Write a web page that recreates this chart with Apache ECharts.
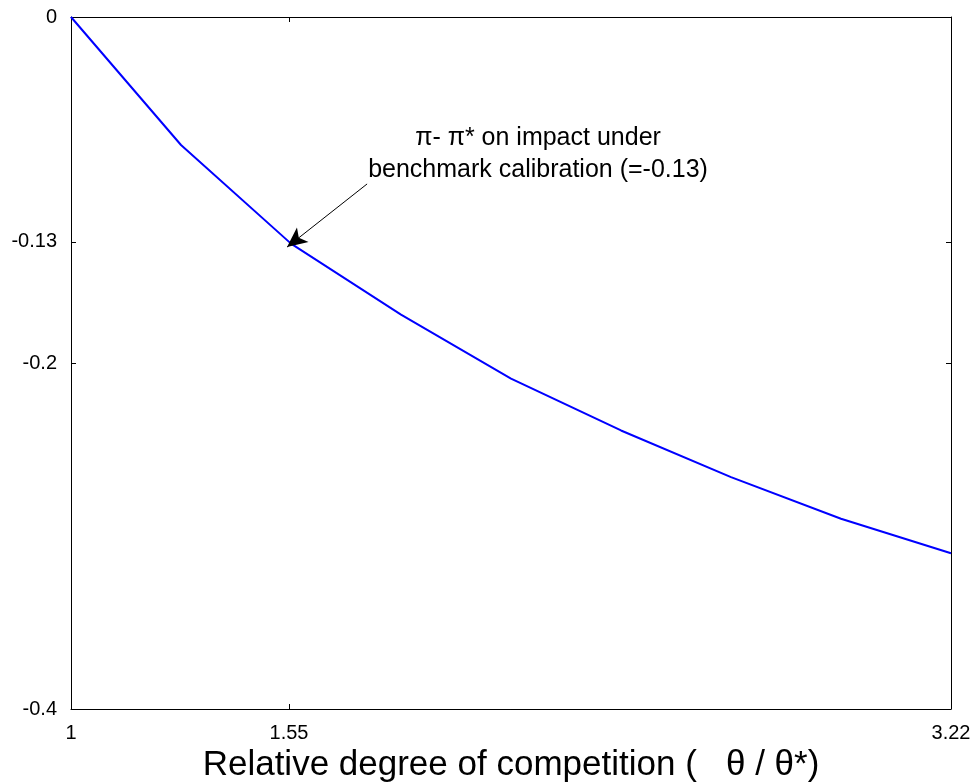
<!DOCTYPE html>
<html>
<head>
<meta charset="utf-8">
<script src="https://cdn.jsdelivr.net/npm/echarts@6/dist/echarts.min.js"></script>
<style>
  html, body { margin: 0; padding: 0; background: #fff; }
  #chart { width: 979px; height: 784px; }
</style>
</head>
<body>
<div id="chart"></div>
<script>
// 数据
const competition = [1, 1.2775, 1.555, 1.8325, 2.11, 2.3875, 2.665, 2.9425, 3.22];
const inflationGap = [0, -0.074, -0.131, -0.172, -0.209, -0.239, -0.266, -0.290, -0.310];
const xTicks = [1, 1.55, 3.22];
const yTicks = [0, -0.13, -0.2, -0.4];
const arrowFrom = [1.747, -0.0965];
const arrowTo = [1.545, -0.133];

const font = 'Arial, "Liberation Sans", Helvetica, sans-serif';

let myChart = echarts.init(document.getElementById('chart'));

// 公共坐标轴样式
function axisBase(ticks, showLabel) {
    return {
        axisLine: { show: true, onZero: false, lineStyle: { color: '#000', width: 1 } },
        axisTick: { show: true, inside: true, length: 5, customValues: ticks, lineStyle: { color: '#000' } },
        axisLabel: { show: showLabel, customValues: ticks, color: '#000', fontSize: 20, fontFamily: font, margin: 14 },
        splitLine: { show: false }
    };
}

let option = {
    animation: false,
    grid: { left: 71, right: 28, top: 17, bottom: 75, outerBoundsMode: 'none', containLabel: false },
    xAxis: [
        Object.assign({
            type: 'value', min: 1, max: 3.22, position: 'bottom',
            name: 'Relative degree of competition (   θ / θ*)',
            nameLocation: 'middle', nameGap: 30,
            nameTextStyle: { color: '#000', fontSize: 35, fontFamily: font }
        }, axisBase(xTicks, true)),
        Object.assign({ type: 'value', min: 1, max: 3.22, position: 'top' }, axisBase(xTicks, false))
    ],
    yAxis: [
        Object.assign({ type: 'value', min: -0.4, max: 0, position: 'left' }, axisBase(yTicks, true)),
        Object.assign({ type: 'value', min: -0.4, max: 0, position: 'right' }, axisBase(yTicks, false))
    ],
    series: [{
        type: 'line',
        data: competition.map((x, i) => [x, inflationGap[i]]),
        showSymbol: false,
        lineStyle: { color: '#0000ff', width: 2 },
        // 箭头标注
        markLine: {
            silent: true,
            symbol: ['none', 'arrow'],
            symbolSize: [14, 20],
            label: { show: false },
            lineStyle: { color: '#000', width: 1, type: 'solid' },
            data: [[{ coord: arrowFrom }, { coord: arrowTo }]]
        }
    }],
    graphic: [{
        type: 'text',
        style: {
            text: 'π- π* on impact under\nbenchmark calibration (=-0.13)',
            x: 538, y: 122,
            textAlign: 'center',
            textVerticalAlign: 'top',
            lineHeight: 32,
            fill: '#000',
            font: '25px ' + font
        }
    }]
};
myChart.setOption(option);
</script>
</body>
</html>
